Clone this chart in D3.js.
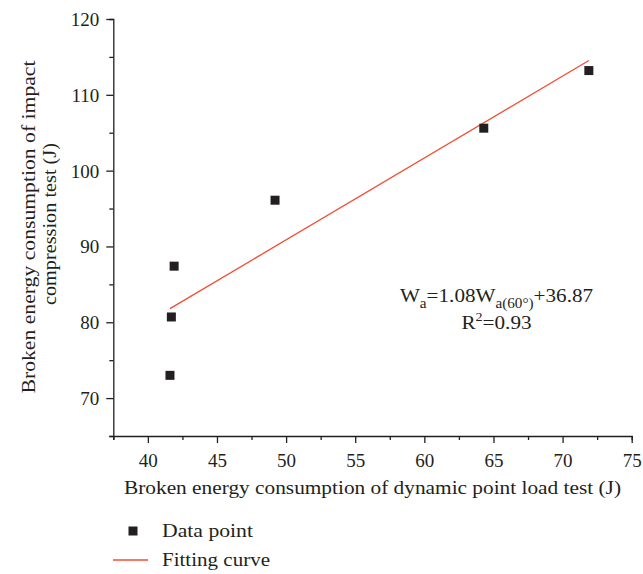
<!DOCTYPE html>
<html>
<head>
<meta charset="utf-8">
<script src="https://cdn.jsdelivr.net/npm/d3@7"></script>
<style>
  html, body { margin: 0; padding: 0; background: #fff; }
  svg { display: block; font-family: "Liberation Serif", "Times New Roman", serif; }
</style>
</head>
<body>
<svg id="chart" width="643" height="574"></svg>
<script>
// Broken energy consumption: dynamic point load test (x) vs impact compression test (y)
const dynamicLoad = [41.6, 41.7, 41.9, 49.2, 64.3, 71.9];
const impactCompression = [73.0, 80.7, 87.4, 96.1, 105.6, 113.2];

// Linear fit Wa = 1.08 Wa(60°) + 36.87
const fitSlope = 1.08;
const fitIntercept = 36.87;

const xMajorTicks = [40, 45, 50, 55, 60, 65, 70, 75];
const xMinorTicks = [37.5, 42.5, 47.5, 52.5, 57.5, 62.5, 67.5, 72.5];
const yMajorTicks = [70, 80, 90, 100, 110, 120];
const yMinorTicks = [65, 75, 85, 95, 105, 115];

const ink = "#231f20";
const fitColor = "#f04e32";
const tickFont = 19;
const labelFont = 19.5;

const svg = d3.select("#chart");

const x = d3.scaleLinear().domain([37.5, 75]).range([113.3, 631.7]);
const y = d3.scaleLinear().domain([65, 120]).range([436, 19]);

function styleAxis(g) {
  g.select(".domain").attr("stroke", ink).attr("stroke-width", 1.3);
  g.selectAll(".tick line").attr("stroke", ink).attr("stroke-width", 1.3);
  g.selectAll(".tick text").attr("fill", ink).style("font-size", tickFont + "px")
    .style("font-family", "Liberation Serif, serif");
}

// stretch a label to a given run length (the serif face here is a little narrower)
function fit(sel, len) {
  return sel.attr("textLength", len).attr("lengthAdjust", "spacingAndGlyphs");
}

// x axis
svg.append("g").attr("transform", `translate(0,${y.range()[0]})`)
  .call(d3.axisBottom(x).tickValues(xMinorTicks).tickSize(4).tickFormat(""))
  .call(styleAxis);
const xMajorG = svg.append("g").attr("transform", `translate(0,${y.range()[0]})`)
  .call(d3.axisBottom(x).tickValues(xMajorTicks).tickSize(7).tickPadding(11).tickFormat(d3.format("d")))
  .call(styleAxis);
xMajorG.select(".domain").remove();

// y axis
svg.append("g").attr("transform", `translate(${x.range()[0]},0)`)
  .call(d3.axisLeft(y).tickValues(yMinorTicks).tickSize(4).tickFormat(""))
  .call(styleAxis);
const yMajorG = svg.append("g").attr("transform", `translate(${x.range()[0]},0)`)
  .call(d3.axisLeft(y).tickValues(yMajorTicks).tickSize(7).tickPadding(7).tickFormat(d3.format("d")))
  .call(styleAxis);
yMajorG.select(".domain").remove();
yMajorG.selectAll(".tick text").attr("dy", "0.34em");

// axis titles
svg.append("text")
  .attr("x", (x.range()[0] + x.range()[1]) / 2)
  .attr("y", 494)
  .attr("text-anchor", "middle")
  .attr("fill", ink)
  .style("font-size", labelFont + "px")
  .text("Broken energy consumption of dynamic point load test (J)")
  .call(fit, 497);

svg.append("text")
  .attr("transform", "translate(35,227) rotate(-90)")
  .attr("text-anchor", "middle")
  .attr("fill", ink)
  .style("font-size", labelFont + "px")
  .text("Broken energy consumption of impact")
  .call(fit, 333);
svg.append("text")
  .attr("transform", "translate(56,224) rotate(-90)")
  .attr("text-anchor", "middle")
  .attr("fill", ink)
  .style("font-size", labelFont + "px")
  .text("compression test (J)")
  .call(fit, 162);

// fitted line
const xExtent = d3.extent(dynamicLoad);
const fitPoints = xExtent.map(v => [v, fitSlope * v + fitIntercept]);
svg.append("path")
  .datum(fitPoints)
  .attr("fill", "none")
  .attr("stroke", fitColor)
  .attr("stroke-width", 1.3)
  .attr("d", d3.line().x(d => x(d[0])).y(d => y(d[1])));

// data points
const markerSize = 9;
svg.append("g").selectAll("rect")
  .data(dynamicLoad.map((v, i) => [v, impactCompression[i]]))
  .join("rect")
  .attr("x", d => x(d[0]) - markerSize / 2)
  .attr("y", d => y(d[1]) - markerSize / 2)
  .attr("width", markerSize)
  .attr("height", markerSize)
  .attr("fill", ink);

// equation annotation
const eqG = svg.append("g").attr("transform", "translate(496.5,302) scale(1.085,1)");
const eq = eqG.append("text")
  .attr("text-anchor", "middle")
  .attr("fill", ink)
  .style("font-size", labelFont + "px");
eq.append("tspan").text("W");
eq.append("tspan").attr("dy", 6).style("font-size", "14px").text("a");
eq.append("tspan").attr("dy", -6).text("=1.08W");
eq.append("tspan").attr("dy", 6).style("font-size", "14px").text("a(60°)");
eq.append("tspan").attr("dy", -6).text("+36.87");

const r2G = svg.append("g").attr("transform", "translate(496.5,328.5) scale(1.085,1)");
const r2 = r2G.append("text")
  .attr("text-anchor", "middle")
  .attr("fill", ink)
  .style("font-size", labelFont + "px");
r2.append("tspan").text("R");
r2.append("tspan").attr("dy", -8).style("font-size", "13px").text("2");
r2.append("tspan").attr("dy", 8).text("=0.93");

// legend
const legend = svg.append("g");
legend.append("rect")
  .attr("x", 133 - markerSize / 2).attr("y", 531 - markerSize / 2)
  .attr("width", markerSize).attr("height", markerSize)
  .attr("fill", ink);
legend.append("text")
  .attr("x", 162).attr("y", 537)
  .attr("fill", ink).style("font-size", labelFont + "px")
  .text("Data point")
  .call(fit, 91);
legend.append("line")
  .attr("x1", 113).attr("x2", 148).attr("y1", 560).attr("y2", 560)
  .attr("stroke", fitColor).attr("stroke-width", 1.3);
legend.append("text")
  .attr("x", 162).attr("y", 566)
  .attr("fill", ink).style("font-size", labelFont + "px")
  .text("Fitting curve")
  .call(fit, 108);
</script>
</body>
</html>
